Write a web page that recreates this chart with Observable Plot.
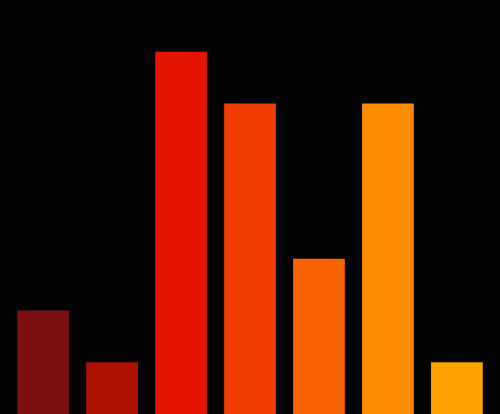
<!DOCTYPE html>
<html>
<head>
<meta charset="utf-8">
<script src="https://cdn.jsdelivr.net/npm/d3@7"></script>
<script src="https://cdn.jsdelivr.net/npm/@observablehq/plot@0.6"></script>
<style>
  html, body { margin: 0; padding: 0; background: #030205; }
  #chart svg { display: block; }
</style>
</head>
<body>
<div id="chart"></div>
<script>
const categories = ["A", "B", "C", "D", "E", "F", "G"];
const values = [2, 1, 7, 6, 3, 6, 1];
const colors = ["#7a0f12", "#ae1205", "#e41400", "#ee3b00", "#f76400", "#ff8c00", "#ffa200"];

const data = categories.map((c, i) => ({ category: c, value: values[i] }));

const chart = Plot.plot({
  width: 500,
  height: 414,
  margin: 0,
  style: { background: "#030205" },
  x: { domain: categories, padding: 0.25, round: false, axis: null },
  y: { domain: [0, 8], axis: null },
  color: { domain: categories, range: colors },
  marks: [
    Plot.barY(data, { x: "category", y: "value", fill: "category" })
  ]
});
document.getElementById("chart").appendChild(chart);
</script>
</body>
</html>
